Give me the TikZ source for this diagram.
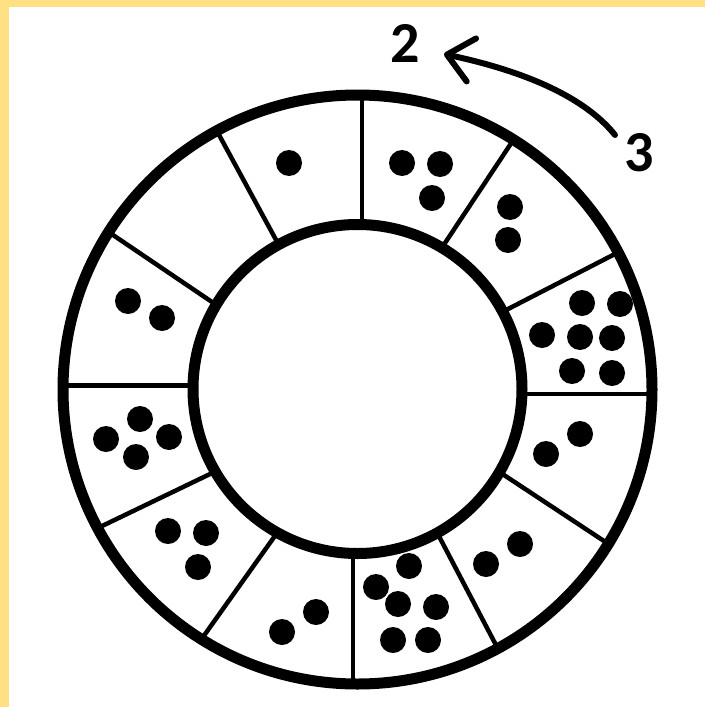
\documentclass[tikz,border=0pt]{standalone}
\usepackage{fontspec}
\setmainfont{Carlito}
\usetikzlibrary{arrows.meta,calc}
\definecolor{frameyellow}{RGB}{255,224,130}
\begin{document}
\begin{tikzpicture}[x=1pt,y=-1pt,
  ringline/.style={line width=11pt},
  divider/.style={line width=4.5pt},
  dotfill/.style={fill=black},
  numlabel/.style={font=\bfseries\fontsize{58}{58}\selectfont, inner sep=0pt},
  curvedarrow/.style={line width=6pt, line cap=round,
    -{Straight Barb[length=25pt,width=44pt,round]}}]
\useasboundingbox (0,0) rectangle (705,707);
\fill[white] (0,0) rectangle (705,707);
\fill[frameyellow] (0,0) rectangle (705,7);
\fill[frameyellow] (0,0) rectangle (9,707);
\coordinate (oc) at (357.5,389.5);
\coordinate (ic) at (357.5,389);
% dividers, clipped to the ring
\begin{scope}[even odd rule]
  \clip (oc) circle (294.5) (ic) circle (164.5);
  \coordinate (d1a) at (362,101);   \coordinate (d1b) at (362,221);
  \coordinate (d2a) at (510,145);   \coordinate (d2b) at (445,243);
  \coordinate (d3a) at (613,255);   \coordinate (d3b) at (510,308);
  \coordinate (d4a) at (653,394);   \coordinate (d4b) at (522,394);
  \coordinate (d5a) at (607,543);   \coordinate (d5b) at (507,477);
  \coordinate (d6a) at (497,647);   \coordinate (d6b) at (442,542);
  \coordinate (d7a) at (353,683);   \coordinate (d7b) at (353,552);
  \coordinate (d8a) at (203,637);   \coordinate (d8b) at (272,540);
  \coordinate (d9a) at (100,527);   \coordinate (d9b) at (208,475);
  \coordinate (d10a) at (62,385.5); \coordinate (d10b) at (192,385.5);
  \coordinate (d11a) at (113,235);  \coordinate (d11b) at (212,302);
  \coordinate (d12a) at (218,133);  \coordinate (d12b) at (275,238);
  \foreach \k in {1,...,12}
    \draw[divider] ($(d\k a)!-0.25!(d\k b)$) -- ($(d\k b)!-0.25!(d\k a)$);
\end{scope}
% rings
\draw[ringline] (oc) circle (294.5);
\draw[ringline] (ic) circle (164.5);
% dots
\foreach \x/\y in {289/163,
  402/163, 440/164, 432/198,
  510/207, 508/240,
  582/303, 620/304, 542/335, 580/337, 612/338, 572/371, 612/373,
  546/454, 580/434,
  486/564, 520/544,
  409/566, 376/587, 398/604, 436/607, 393/640, 428/640,
  282/632, 316/612,
  168/531, 206/533, 198/567,
  106/439, 140/419, 169/437, 136/457,
  128/301, 162/318}
  \fill[dotfill] (\x,\y) circle (13);
% labels and arrow
\node[numlabel] (two) at (405.5,43) {2};
\node[numlabel] (three) at (639,153) {3};
\coordinate (arrowstart) at (615,135);
\coordinate (arrowend) at (444,54);
\draw[curvedarrow] (arrowstart) .. controls (575,85) and (490,64) .. (arrowend);
\end{tikzpicture}
\end{document}
